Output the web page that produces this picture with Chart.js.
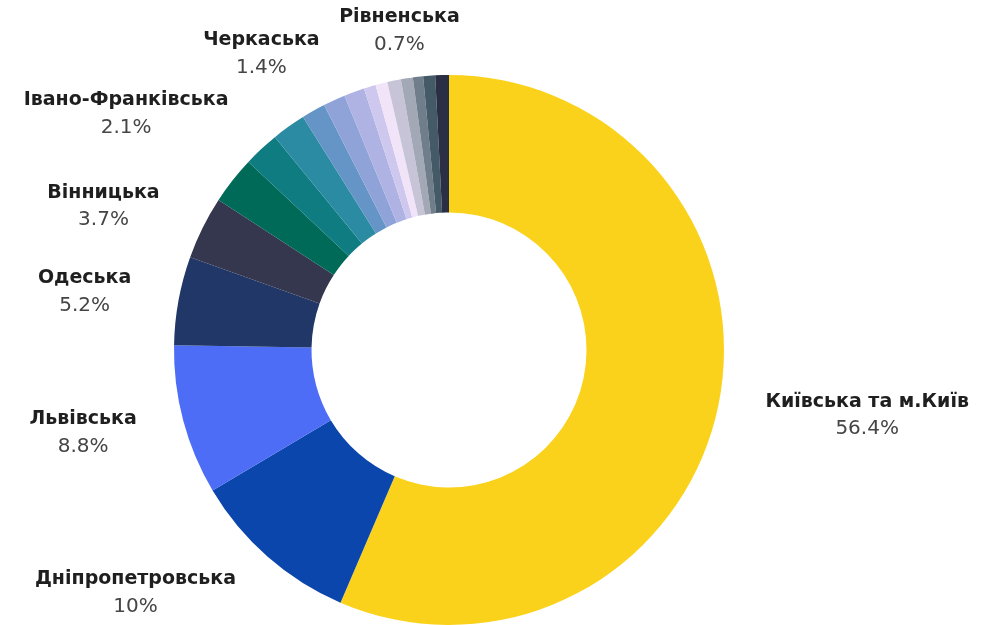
<!DOCTYPE html>
<html lang="uk">
<head>
<meta charset="utf-8">
<title>Розподіл за областями</title>
<script src="https://cdn.jsdelivr.net/npm/chart.js@4.4.1/dist/chart.umd.min.js"></script>
<style>
  html, body { margin: 0; padding: 0; background: #ffffff; }
  #wrap { width: 985px; height: 625px; position: relative; }
</style>
</head>
<body>
<div id="wrap"><canvas id="chart" width="985" height="625"></canvas></div>
<script>
// Regions, clockwise from 12 o'clock
const regions = [
  'Київська та м.Київ', 'Дніпропетровська', 'Львівська', 'Одеська', 'Вінницька',
  'Харківська', 'Івано-Франківська', 'Полтавська', 'Черкаська', 'Запорізька',
  'Житомирська', 'Хмельницька', 'Волинська', 'Закарпатська', 'Рівненська',
  'Тернопільська', 'Чернігівська', 'Сумська'
];

// Share of the total, %
const shares = [
  56.4, 10, 8.8, 5.2, 3.7,
  2.8, 2.1, 2.0, 1.4, 1.3,
  1.2, 0.7, 0.7, 0.8, 0.7,
  0.6, 0.7, 0.8
];

const sliceColors = [
  '#FAD21C', '#0B46AD', '#4D6DF6', '#213768', '#35374F',
  '#006A58', '#0F7C82', '#2B8BA3', '#6594C6', '#8FA3D8',
  '#AFB3E3', '#CFC8EE', '#F2E4F8', '#C6C4D6', '#A3A8B6',
  '#6F7E8A', '#445A66', '#2A2F45'
];

// Regions that carry a caption next to their slice
const labelledRegions = [
  'Київська та м.Київ', 'Дніпропетровська', 'Львівська', 'Одеська', 'Вінницька',
  'Івано-Франківська', 'Черкаська', 'Рівненська'
];

const FONT = '"DejaVu Sans", "Noto Sans", sans-serif';
const nameFont = 'bold 19px ' + FONT;
const valueFont = '20px ' + FONT;

// Captions sit on a circle just outside the ring: left-half captions end on it,
// right-half captions start on it, captions near the top are centred on it.
// Overlapping captions are moved apart vertically, smaller shares give way.
const sliceLabels = {
  id: 'sliceLabels',
  afterDatasetsDraw(chart) {
    const ctx = chart.ctx;
    const meta = chart.getDatasetMeta(0);
    const H = chart.height;
    const lineH = 27, boxH = 2 * lineH + 6, gap = 48, centreZone = 80;
    const items = [];
    let cx = 0, cy = 0, r = 0;

    meta.data.forEach((arc, i) => {
      const name = chart.data.labels[i];
      if (!labelledRegions.includes(name)) return;
      const p = arc.getProps(['x', 'y', 'startAngle', 'endAngle', 'outerRadius'], true);
      cx = p.x; cy = p.y; r = p.outerRadius + gap;
      const mid = (p.startAngle + p.endAngle) / 2;
      const value = chart.data.datasets[0].data[i];
      ctx.font = nameFont;
      const w1 = ctx.measureText(name).width;
      ctx.font = valueFont;
      const w2 = ctx.measureText(value + '%').width;
      items.push({
        name, value,
        text: value + '%',
        w: Math.max(w1, w2),
        y0: cy + r * Math.sin(mid),
        left: Math.cos(mid) < 0
      });
    });

    const boxAt = (it, y) => {
      const dy = Math.max(-r, Math.min(r, y - cy));
      const dx = Math.sqrt(r * r - dy * dy);
      const edge = it.left ? cx - dx : cx + dx;
      let x;
      if (dx < centreZone) x = edge;
      else x = it.left ? edge - it.w / 2 : edge + it.w / 2;
      return { x, y, x1: x - it.w / 2, x2: x + it.w / 2, y1: y - boxH / 2, y2: y + boxH / 2 };
    };

    const placed = [];
    items.slice().sort((a, b) => b.value - a.value).forEach(it => {
      let y = it.y0;
      for (let k = 0; k < 20; k++) {
        const b = boxAt(it, y);
        const hit = placed.find(q => b.x1 < q.box.x2 && b.x2 > q.box.x1 && b.y1 < q.box.y2 && b.y2 > q.box.y1);
        if (!hit) break;
        y = it.y0 <= hit.box.y ? hit.box.y - boxH : hit.box.y + boxH;
      }
      y = Math.max(boxH / 2, Math.min(H - boxH / 2, y));
      it.box = boxAt(it, y);
      placed.push(it);
    });

    ctx.save();
    ctx.textAlign = 'center';
    ctx.textBaseline = 'middle';
    placed.forEach(it => {
      ctx.font = nameFont;
      ctx.fillStyle = '#1f1f1f';
      ctx.fillText(it.name, it.box.x, it.box.y - lineH / 2);
      ctx.font = valueFont;
      ctx.fillStyle = '#454545';
      ctx.fillText(it.text, it.box.x, it.box.y + lineH / 2);
    });
    ctx.restore();
  }
};

new Chart(document.getElementById('chart'), {
  type: 'doughnut',
  data: {
    labels: regions,
    datasets: [{
      data: shares,
      backgroundColor: sliceColors,
      borderWidth: 0
    }]
  },
  options: {
    responsive: false,
    animation: false,
    cutout: '50%',
    layout: { padding: { top: 75, left: 173, right: 260, bottom: 0 } },
    plugins: {
      legend: { display: false },
      tooltip: { enabled: false }
    }
  },
  plugins: [sliceLabels]
});
</script>
</body>
</html>
